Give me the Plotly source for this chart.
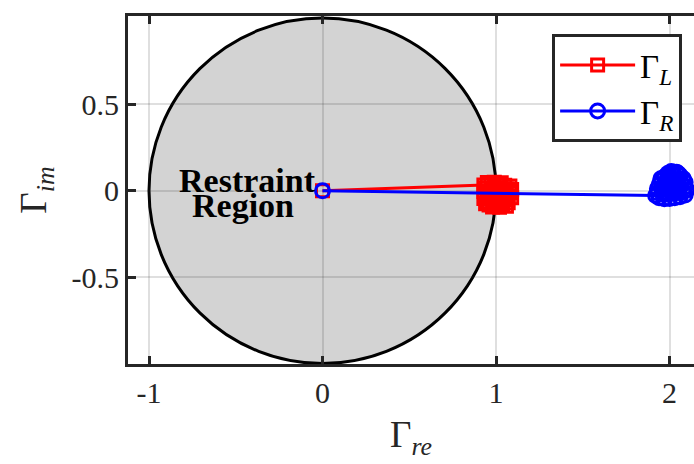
import plotly.graph_objects as go

# Reflection coefficients: Gamma_L (load side) and Gamma_R, real/imag parts
gamma_L_re = [0.0, 0.93, 0.95, 0.99, 1.03, 0.97, 1.01, 1.05, 1.08, 0.94, 0.98,
              1.02, 1.06, 1.09, 0.93, 0.96, 1.00, 1.04, 1.08, 0.95, 0.99, 1.03,
              1.07, 1.09, 0.93, 0.97, 1.01, 1.05, 0.95, 0.99, 1.03, 1.07, 0.96,
              1.00, 1.04, 0.98, 1.02, 1.06, 0.94, 1.01]
gamma_L_im = [0.0, 0.033, 0.048, 0.05, 0.047, 0.036, 0.038, 0.032, 0.028, 0.016,
              0.014, 0.018, 0.012, 0.008, -0.004, -0.006, -0.002, -0.008, -0.01,
              -0.024, -0.026, -0.022, -0.03, -0.04, -0.045, -0.044, -0.048, -0.05,
              -0.064, -0.066, -0.062, -0.07, -0.082, -0.086, -0.084, -0.094, -0.096,
              -0.09, -0.075, -0.03]

gamma_R_re = [0.0, 1.92, 1.94, 1.97, 2.00, 2.03, 2.06, 2.09, 1.93, 1.96, 1.99,
              2.02, 2.05, 2.08, 2.10, 1.93, 1.96, 2.00, 2.03, 2.06, 2.09, 1.94,
              1.97, 2.01, 2.04, 2.07, 2.09, 1.95, 1.98, 2.02, 2.05, 2.08, 1.97,
              2.00, 2.03, 2.06, 1.99, 2.02, 2.05, 2.01, 2.04, 1.95]
gamma_R_im = [0.0, -0.028, -0.04, -0.046, -0.044, -0.04, -0.035, -0.025, -0.012,
              -0.018, -0.02, -0.015, -0.01, -0.005, 0.005, 0.012, 0.008, 0.01,
              0.014, 0.018, 0.022, 0.035, 0.03, 0.034, 0.038, 0.045, 0.05, 0.058,
              0.055, 0.06, 0.066, 0.07, 0.08, 0.084, 0.088, 0.09, 0.1, 0.105,
              0.1, 0.112, 0.108, 0.07]

# Unit-circle restraint region |Gamma| <= 1
restraint_radius = 1.0
# Two-line label inside the region, one annotation per line for tight spacing
region_label_lines = ["Restraint", "Region"]
region_label_x = [-0.432, -0.46]
region_label_y = [0.058, -0.088]

x_ticks = [-1, 0, 1, 2]
y_ticks = [-0.5, 0, 0.5]

FONT = "Liberation Serif, Times New Roman, serif"
AX = "#262626"
GRID = "rgba(38,38,38,0.15)"

fig = go.Figure()

fig.add_trace(go.Scatter(
    x=gamma_L_re, y=gamma_L_im, mode="lines+markers",
    name="Γ<sub><i>L</i></sub>",
    line=dict(color="#ff0000", width=3),
    marker=dict(symbol="square-open", size=12, color="#ff0000", line=dict(width=3)),
))
fig.add_trace(go.Scatter(
    x=gamma_R_re, y=gamma_R_im, mode="lines+markers",
    name="Γ<sub><i>R</i></sub>",
    line=dict(color="#0000ff", width=3),
    marker=dict(symbol="circle-open", size=14, color="#0000ff", line=dict(width=3)),
))

fig.add_shape(
    type="circle", xref="x", yref="y",
    x0=-restraint_radius, y0=-restraint_radius,
    x1=restraint_radius, y1=restraint_radius,
    fillcolor="#d3d3d3", line=dict(color="#000000", width=3), layer="below",
)

for txt, lx, ly in zip(region_label_lines, region_label_x, region_label_y):
    fig.add_annotation(
        x=lx, y=ly, xref="x", yref="y",
        text="<b>" + txt + "</b>", showarrow=False,
        font=dict(family=FONT, size=34, color="#000000"),
    )

axis_common = dict(
    showgrid=True, gridcolor=GRID, gridwidth=2, zeroline=False,
    showline=True, linecolor=AX, linewidth=3,
    ticks="inside", ticklen=8, tickwidth=2.5, tickcolor=AX,
    tickfont=dict(family=FONT, size=30, color=AX),
)

fig.update_layout(
    width=694, height=464,
    margin=dict(l=128, r=0, t=16, b=100),
    paper_bgcolor="white", plot_bgcolor="white",
    xaxis=dict(
        range=[-1.121, 2.141], tickvals=x_ticks, ticktext=[str(v) for v in x_ticks],
        mirror="ticks",
        title=dict(text="Γ<sub><i>re</i></sub>", font=dict(family=FONT, size=37, color=AX),
                   standoff=14),
        **axis_common,
    ),
    yaxis=dict(
        range=[-1.003, 1.012], tickvals=y_ticks, ticktext=["-0.5", "0", "0.5"],
        mirror=False,
        title=dict(text="Γ<sub><i>im</i></sub>", font=dict(family=FONT, size=37, color=AX),
                   standoff=14),
        **axis_common,
    ),
    legend=dict(
        x=0.979, y=0.948, xanchor="right", yanchor="top",
        bgcolor="white", bordercolor=AX, borderwidth=3,
        font=dict(family=FONT, size=33, color="#000000"),
        itemwidth=75, tracegroupgap=0,
    ),
    showlegend=True,
)

fig.write_html("out.html")
